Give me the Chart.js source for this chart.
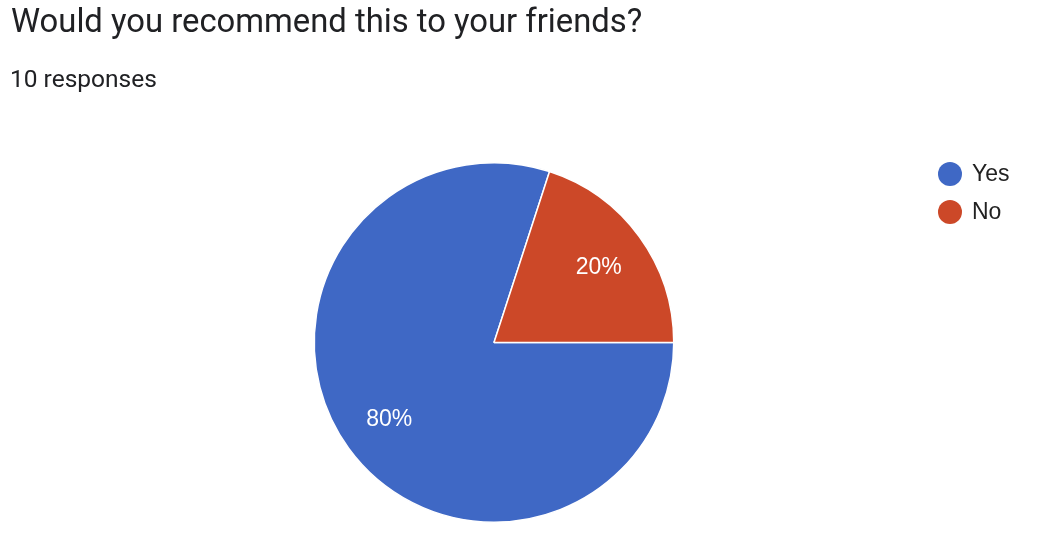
<!DOCTYPE html>
<html><head><meta charset="utf-8">
<script src="https://cdn.jsdelivr.net/npm/chart.js@4"></script>
<style>
html,body{margin:0;padding:0;background:#fff;width:1048px;height:536px;overflow:hidden;}
#t{position:absolute;left:11px;top:5px;font-family:Roboto,sans-serif;font-size:32.8px;line-height:32.8px;color:#202124;white-space:nowrap;}
#s{position:absolute;left:10px;top:66.5px;font-family:Roboto,sans-serif;font-size:24.5px;line-height:24.5px;color:#202124;white-space:nowrap;}
canvas{position:absolute;left:0;top:0;}
</style></head><body>
<canvas id="c" width="1048" height="536"></canvas>
<div id="t">Would you recommend this to your friends?</div>
<div id="s">10 responses</div>
<script>
const categories = ["Yes", "No"];
const percentages = [80, 20];
const colors = ["#3F68C5", "#CC4828"];
const LABEL_FONT = '23px "Liberation Sans", Arial, Helvetica, sans-serif';

const labelPlugin = {
  id: 'sliceLabels',
  afterDatasetsDraw(chart) {
    const ctx = chart.ctx;
    const meta = chart.getDatasetMeta(0);
    ctx.save();
    ctx.fillStyle = '#ffffff';
    ctx.font = LABEL_FONT;
    ctx.textAlign = 'center';
    ctx.textBaseline = 'middle';
    meta.data.forEach((arc, i) => {
      const p = arc.getProps(['x','y','startAngle','endAngle','outerRadius'], true);
      const mid = (p.startAngle + p.endAngle) / 2;
      const r = p.outerRadius * 0.72;
      ctx.fillText(percentages[i] + '%', p.x + Math.cos(mid) * r, p.y + Math.sin(mid) * r + 1);
    });
    ctx.restore();
  }
};

const legendPlugin = {
  id: 'sideLegend',
  afterDraw(chart) {
    const ctx = chart.ctx;
    ctx.save();
    ctx.font = LABEL_FONT;
    ctx.textBaseline = 'middle';
    categories.forEach((c, i) => {
      const y = 174 + i * 38;
      ctx.fillStyle = colors[i];
      ctx.beginPath();
      ctx.arc(950, y, 12, 0, Math.PI * 2);
      ctx.fill();
      ctx.fillStyle = '#222222';
      ctx.fillText(c, 972, y + 1);
    });
    ctx.restore();
  }
};

function draw() {
  new Chart(document.getElementById('c'), {
    type: 'pie',
    data: {
      labels: categories,
      datasets: [{
        data: percentages,
        backgroundColor: colors,
        borderColor: '#ffffff',
        borderWidth: 1.5
      }]
    },
    options: {
      responsive: false,
      animation: false,
      rotation: 90,
      layout: { padding: { top: 162, bottom: 13, left: 200, right: 260 } },
      plugins: { legend: { display: false }, tooltip: { enabled: false } }
    },
    plugins: [labelPlugin, legendPlugin]
  });
}
if (document.fonts && document.fonts.load) {
  document.fonts.load(LABEL_FONT, '80%Yes No').then(draw, draw);
} else { draw(); }
</script>
</body></html>
